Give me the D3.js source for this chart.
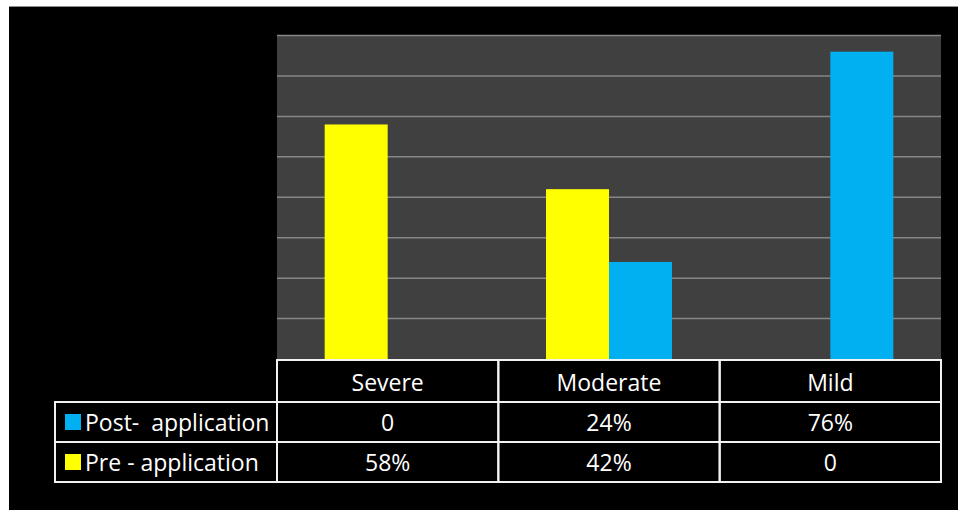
<!DOCTYPE html>
<html>
<head>
<meta charset="utf-8">
<script src="https://cdn.jsdelivr.net/npm/d3@7"></script>
<style>
  html, body { margin: 0; padding: 0; background: #ffffff; }
  svg { display: block; }
  text { font-family: "Open Sans", "Noto Sans", sans-serif; fill: #ffffff; }
</style>
</head>
<body>
<svg id="chart" width="958" height="510"></svg>
<script>
// Severity grades shown along the category axis
const categories = ["Severe", "Moderate", "Mild"];
// Share of cases per grade, before and after application
const preValues = [0.58, 0.42, 0];
const postValues = [0, 0.24, 0.76];
// Series labels in the data table (top row first)
const seriesNames = ["Post-  application", "Pre - application"];
// Value axis gridline ticks
const gridTicks = [0.1, 0.2, 0.3, 0.4, 0.5, 0.6, 0.7, 0.8];

const colors = { pre: "#ffff00", post: "#00b0f0" };

const svg = d3.select("#chart");

// Slide background
svg.append("rect").attr("x", 9).attr("y", 6).attr("width", 949).attr("height", 504).attr("fill", "#000000");
svg.append("line").attr("x1", 9).attr("x2", 958).attr("y1", 6.5).attr("y2", 6.5).attr("stroke", "#8c8c8c").attr("stroke-width", 1);

const plot = { left: 277, right: 941, top: 35.5, bottom: 359 };

const x = d3.scaleBand().domain(categories).range([plot.left, plot.right]).padding(0);
const sub = d3.scaleBand().domain(["pre", "post"]).range([0, x.bandwidth()]).paddingInner(0).paddingOuter(0.757);
const y = d3.scaleLinear().domain([0, 0.8]).range([plot.bottom, plot.top]);

// Plot area
svg.append("rect")
  .attr("x", plot.left).attr("y", plot.top)
  .attr("width", plot.right - plot.left).attr("height", plot.bottom - plot.top)
  .attr("fill", "#404040");

// Horizontal gridlines
svg.append("g").selectAll("line").data(gridTicks).join("line")
  .attr("x1", plot.left).attr("x2", plot.right)
  .attr("y1", d => y(d)).attr("y2", d => y(d))
  .attr("stroke", "#868686").attr("stroke-width", 1.5);

// Bars: yellow (pre) on the left, blue (post) on the right of each grade
const rows = categories.map((c, i) => ({ cat: c, pre: preValues[i], post: postValues[i] }));
const barData = rows.flatMap(r => [
  { cat: r.cat, key: "pre", v: r.pre },
  { cat: r.cat, key: "post", v: r.post }
]).filter(d => d.v > 0);

svg.append("g").selectAll("rect").data(barData).join("rect")
  .attr("x", d => x(d.cat) + sub(d.key))
  .attr("width", sub.bandwidth())
  .attr("y", d => y(d.v))
  .attr("height", d => y(0) - y(d.v))
  .attr("fill", d => colors[d.key]);

// Data table below the plot
const fmt = v => v === 0 ? "0" : d3.format(".0%")(v);
const tableTop = 360, rowH = [42, 40, 40];
const rowY = [tableTop, tableTop + rowH[0], tableTop + rowH[0] + rowH[1]];
const labelLeft = 55;
const fontSize = 23;

const table = svg.append("g");

function cell(x0, y0, w, h) {
  table.append("rect")
    .attr("x", x0).attr("y", y0).attr("width", w).attr("height", h)
    .attr("fill", "none").attr("stroke", "#f2f2f2").attr("stroke-width", 2);
}
categories.forEach(c => cell(x(c), rowY[0], x.bandwidth(), rowH[0]));
[1, 2].forEach(ri => {
  cell(labelLeft, rowY[ri], plot.left - labelLeft, rowH[ri]);
  categories.forEach(c => cell(x(c), rowY[ri], x.bandwidth(), rowH[ri]));
});

// Header text
table.selectAll("text.head").data(categories).join("text")
  .attr("class", "head")
  .attr("x", d => x(d) + x.bandwidth() / 2)
  .attr("y", rowY[0] + rowH[0] / 2 + 9.5)
  .attr("text-anchor", "middle")
  .attr("font-size", fontSize)
  .text(d => d);

// Series rows with legend keys and values
const seriesRows = [
  { name: seriesNames[0], key: "post", values: postValues },
  { name: seriesNames[1], key: "pre", values: preValues }
];
seriesRows.forEach((s, i) => {
  const ri = i + 1;
  const cy = rowY[ri] + rowH[ri] / 2;
  table.append("rect")
    .attr("x", 65).attr("y", cy - 8).attr("width", 16).attr("height", 16)
    .attr("fill", colors[s.key]);
  table.append("text")
    .attr("x", 85).attr("y", cy + 8.5)
    .attr("font-size", fontSize)
    .style("white-space", "pre")
    .text(s.name);
  table.selectAll(null).data(s.values).join("text")
    .attr("x", (d, j) => x(categories[j]) + x.bandwidth() / 2)
    .attr("y", cy + 8.5)
    .attr("text-anchor", "middle")
    .attr("font-size", fontSize)
    .text(d => fmt(d));
});
</script>
</body>
</html>
